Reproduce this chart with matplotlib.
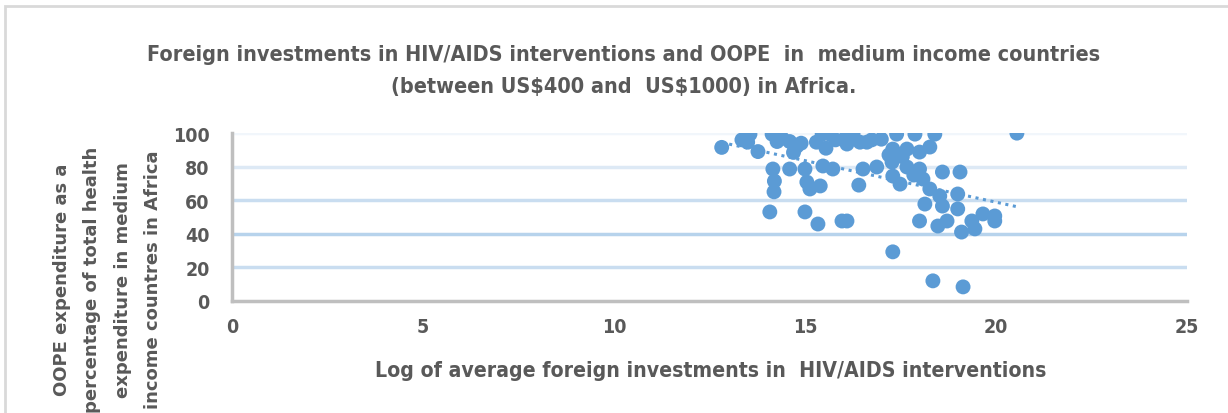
import numpy as np
import matplotlib
matplotlib.use("Agg")
import matplotlib.pyplot as plt
from matplotlib.patches import Rectangle

log_investment = [12.82, 13.56, 13.5, 13.77, 13.35, 14.14, 14.27, 14.4, 14.16, 14.2,
                  14.19, 14.08, 14.6, 14.6, 14.78, 14.7, 14.9, 15.0, 15.05, 15.13,
                  15.4, 15.0, 15.34, 15.97, 16.1, 15.45, 15.65, 15.3, 15.55, 15.47,
                  15.73, 15.8, 16.1, 16.26, 16.1, 16.44, 16.62, 16.75, 17.0, 16.52,
                  16.88, 16.41, 17.4, 17.88, 18.4, 17.3, 17.2, 17.67, 18.0, 18.27,
                  17.28, 17.3, 17.49, 17.67, 17.55, 18.0, 17.85, 18.09, 18.27, 18.14,
                  18.0, 18.6, 19.06, 18.53, 18.6, 19.0, 18.72, 18.48, 19.0, 19.1,
                  19.45, 19.37, 19.66, 19.97, 19.97, 17.3, 18.35, 19.14, 20.55]
oope_pct = [91.5, 99.4, 94.6, 89, 96, 99.4, 95, 97, 78.6, 71.4,
            65, 53, 95, 78.6, 92, 88.5, 94, 78.6, 70.8, 66.7,
            68.5, 53, 45.8, 47.6, 47.6, 99.4, 99.4, 94.6, 91, 80.4,
            78.6, 96, 99.4, 99.4, 93.5, 94.6, 94.6, 96, 96.4, 78.6,
            79.8, 69, 99.4, 99.4, 99.4, 90.5, 87, 90.5, 88.7, 91.7,
            82.7, 74.4, 69.6, 79.8, 86, 78.6, 75, 72.6, 66.7, 57.7,
            47.6, 76.8, 76.8, 62.5, 56.5, 63.7, 47.6, 44.6, 54.8, 41,
            42.9, 47.6, 51.8, 50.6, 47.6, 29.2, 11.9, 8.3, 100]

x_ticks = [0, 5, 10, 15, 20, 25]
y_ticks = [0, 20, 40, 60, 80, 100]

title_text = ("Foreign investments in HIV/AIDS interventions and OOPE  in  medium income countries\n"
              r"(between US\$400 and  US\$1000) in Africa.")
xlabel_text = "Log of average foreign investments in  HIV/AIDS interventions"
ylabel_text = ("OOPE expenditure as a\npercentage of total health\n"
               "expenditure in medium\nincome countres in Africa")

TXT = "#595959"
BLUE = "#5b9bd5"
COND = dict(family="DejaVu Sans", stretch="condensed", fontweight="bold")

fig = plt.figure(figsize=(12.28, 4.14), dpi=100)
fig.patches.append(Rectangle((0.004, -0.2), 1.2, 1.182, transform=fig.transFigure,
                             fill=False, edgecolor="#d9d9d9", linewidth=2))
ax = fig.add_axes([0.189, 0.271, 0.7775, 0.405])

grid_colors = ["#c9ddf0", "#b7d3ec", "#c9ddf0", "#dde9f5", "#f1f6fb"]
for yv, gc in zip(y_ticks[1:], grid_colors):
    ax.axhline(yv, color=gc, linewidth=2.5, zorder=0)

ax.scatter(log_investment, oope_pct, s=115, color=BLUE, edgecolors="none", zorder=3)

coef = np.polyfit(log_investment, oope_pct, 1)
xs = np.array([min(log_investment), max(log_investment)])
ax.plot(xs, np.polyval(coef, xs), linestyle=(0, (1, 1.5)), color=BLUE, linewidth=2.2, zorder=2)

ax.set_xlim(0, 25)
ax.set_ylim(0, 100)
ax.set_xticks(x_ticks)
ax.set_yticks(y_ticks)
for s in ["top", "right"]:
    ax.spines[s].set_visible(False)
for s in ["left", "bottom"]:
    ax.spines[s].set_color("#bfbfbf")
    ax.spines[s].set_linewidth(2.5)
ax.tick_params(axis="x", length=0, pad=12, colors=TXT)
ax.tick_params(axis="y", length=0, pad=16, colors=TXT)
for lab in ax.get_xticklabels() + ax.get_yticklabels():
    lab.set_fontfamily("DejaVu Sans")
    lab.set_fontstretch("condensed")
    lab.set_fontweight("bold")
    lab.set_fontsize(14)

fig.text(0.508, 0.828, title_text, ha="center", va="center", fontsize=15.5,
         color=TXT, linespacing=1.75, **COND)
fig.text(0.5785, 0.105, xlabel_text, ha="center", va="center", fontsize=15.2,
         color=TXT, **COND)
fig.text(0.0875, 0.324, ylabel_text, ha="center", va="center", rotation=90,
         fontsize=13, fontweight="bold", color=TXT, family="DejaVu Sans", linespacing=1.9)

fig.savefig("out.png", dpi=100)
